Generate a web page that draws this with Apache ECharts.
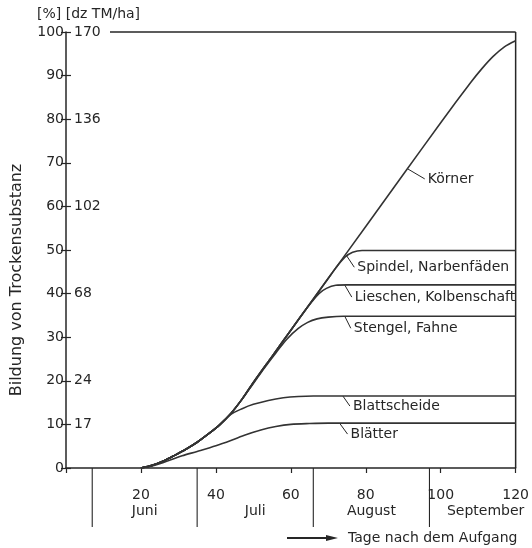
<!DOCTYPE html>
<html><head><meta charset="utf-8">
<script src="https://cdn.jsdelivr.net/npm/echarts@6/dist/echarts.min.js"></script>
<style>html,body{margin:0;padding:0;background:#fff}#c{width:532px;height:548px}</style>
</head><body><div id="c"></div>
<script>
// cumulative dry-matter formation [%] vs days after emergence
const koerner = [[20,0],[23,0.6],[26,1.6],[29,2.9],[32,4.3],[35,5.9],[38,7.8],[41,9.9],[44,12.5],[47,15.8],[50,19.6],[55,25.6],[60,31.6],[70,43.5],[80,55.4],[90,67.3],[100,79.2],[108,88.4],[111,91.6],[114,94.4],[117,96.6],[120,98]];
const spindel = [[20,0],[23,0.6],[26,1.6],[29,2.9],[32,4.3],[35,5.9],[38,7.8],[41,9.9],[44,12.5],[47,15.8],[50,19.6],[55,25.6],[60,31.6],[70,43.5],[72,45.9],[74.5,48.4],[76.5,49.5],[79,49.9],[90,49.9],[120,49.9]];
const lieschen = [[20,0],[23,0.6],[26,1.6],[29,2.9],[32,4.3],[35,5.9],[38,7.8],[41,9.9],[44,12.5],[47,15.8],[50,19.6],[55,25.6],[60,31.6],[63,35.2],[65.5,38.0],[67.5,40.0],[69.5,41.2],[72,41.9],[75,42],[90,42],[120,42]];
const stengel = [[20,0],[23,0.6],[26,1.6],[29,2.9],[32,4.3],[35,5.9],[38,7.8],[41,9.9],[44,12.5],[47,15.8],[50,19.4],[53,23.0],[56,26.4],[59,29.6],[62,32.0],[64.5,33.4],[67,34.2],[70,34.6],[74,34.8],[90,34.8],[120,34.8]];
const blattscheide = [[20,0],[23,0.6],[26,1.6],[29,2.9],[32,4.3],[35,5.9],[38,7.8],[41,9.9],[44,12.3],[47,13.6],[50,14.6],[54,15.5],[58,16.1],[62,16.4],[66,16.5],[90,16.5],[120,16.5]];
const blaetter = [[20,0],[22,0.3],[25,1.0],[28,1.9],[31,2.8],[35,3.8],[40,5.1],[44,6.3],[48,7.6],[52,8.7],[56,9.5],[60,10.0],[65,10.2],[70,10.3],[90,10.3],[120,10.3]];

const seriesNames = ['Körner','Spindel, Narbenfäden','Lieschen, Kolbenschaft','Stengel, Fahne','Blattscheide','Blätter'];
const seriesData = [koerner, spindel, lieschen, stengel, blattscheide, blaetter];
// label anchor points on each curve [day, value]
const labelAnchors = [[91.2,68.6],[74.8,48.8],[74.4,41.95],[74.4,34.8],[73.9,16.5],[73,10.3]];

const yTicksRight = {100:'170',80:'136',60:'102',40:'68',20:'24',10:'17'};
const monthNames = ['Juni','Juli','August','September'];
const monthBounds = [7,35,66,97];
const monthLabelDays = [21,50.5,81.5,112];
const topLabel = '[%] [dz TM/ha]';
const yTitle = 'Bildung von Trockensubstanz';
const xTitle = 'Tage nach dem Aufgang';

const FONT = 'DejaVu Sans';
const INK = '#262626';
const chart = echarts.init(document.getElementById('c'), null, {renderer:'canvas'});
chart.setOption({
  animation:false,
  backgroundColor:'#fff',
  grid:{left:66,right:15,top:32,bottom:80},
  xAxis:{type:'value',min:0,max:120,interval:20,
    axisLine:{lineStyle:{color:INK,width:1.5}},
    axisTick:{show:true,length:5,lineStyle:{color:INK,width:1.2}},
    axisLabel:{margin:20,fontFamily:FONT,fontSize:14,color:INK,formatter:v=>v===0?'':String(v)},
    splitLine:{show:false}},
  yAxis:[
    {type:'value',min:0,max:100,interval:10,position:'left',
     axisLine:{show:true,lineStyle:{color:INK,width:1.5}},
     axisTick:{show:true,length:5,lineStyle:{color:INK,width:1.2}},
     axisLabel:{margin:2,fontFamily:FONT,fontSize:14,color:INK},
     splitLine:{show:false}},
    {type:'value',min:0,max:100,interval:10,position:'left',
     axisLine:{show:false},
     axisTick:{show:true,inside:true,length:5,lineStyle:{color:INK,width:1.2}},
     axisLabel:{inside:true,margin:8,fontFamily:FONT,fontSize:14,color:INK,formatter:v=>yTicksRight[v]||''},
     splitLine:{show:false}}
  ],
  series: seriesData.map((d,i)=>({
    name:seriesNames[i],type:'line',data:d,smooth:0.3,
    showSymbol:false,symbol:'none',silent:true,
    lineStyle:{color:'#333',width:1.6}
  }))
});

const px = (d,v)=>chart.convertToPixel({xAxisIndex:0,yAxisIndex:0},[d,v]);
const g = [];
const tl = px(0,100), tr = px(120,100), br = px(120,0), bl = px(0,0);
g.push({type:'line',shape:{x1:tl[0]+44,y1:tl[1],x2:tr[0],y2:tr[1]},style:{stroke:INK,lineWidth:1.5}});
g.push({type:'line',shape:{x1:tr[0],y1:tr[1],x2:br[0],y2:br[1]},style:{stroke:INK,lineWidth:1.5}});
monthBounds.forEach(b=>{
  const p = px(b,0);
  g.push({type:'line',shape:{x1:p[0],y1:p[1],x2:p[0],y2:p[1]+59},style:{stroke:INK,lineWidth:1.1}});
});
monthNames.forEach((m,i)=>{
  const p = px(monthLabelDays[i],0);
  g.push({type:'text',x:p[0],y:p[1]+43,style:{text:m,fontFamily:FONT,fontSize:14,fill:INK,align:'center',verticalAlign:'middle'}});
});
const offs = [[17,10],[8,12],[7,12],[6,12],[7,10],[8,11]];
seriesNames.forEach((n,i)=>{
  const p = px(labelAnchors[i][0],labelAnchors[i][1]);
  const o = offs[i];
  g.push({type:'line',shape:{x1:p[0],y1:p[1],x2:p[0]+o[0],y2:p[1]+o[1]},style:{stroke:INK,lineWidth:1}});
  g.push({type:'text',x:p[0]+o[0]+3,y:p[1]+o[1],style:{text:n,fontFamily:FONT,fontSize:14,fill:INK,align:'left',verticalAlign:'middle'}});
});
g.push({type:'text',x:37,y:14,style:{text:topLabel,fontFamily:FONT,fontSize:14,fill:INK,align:'left',verticalAlign:'middle'}});
g.push({type:'text',x:17,y:(tl[1]+bl[1])/2+30,rotation:Math.PI/2,style:{text:yTitle,fontFamily:FONT,fontSize:16,fill:INK,align:'center',verticalAlign:'middle'}});
// arrow + x title
const ay = bl[1]+70;
g.push({type:'line',shape:{x1:287,y1:ay,x2:330,y2:ay},style:{stroke:INK,lineWidth:2}});
g.push({type:'polygon',shape:{points:[[326,ay-3],[338,ay],[326,ay+3]]},style:{fill:INK}});
g.push({type:'text',x:348,y:ay,style:{text:xTitle,fontFamily:FONT,fontSize:14,fill:INK,align:'left',verticalAlign:'middle'}});
chart.setOption({graphic:g});
</script>
</body></html>
